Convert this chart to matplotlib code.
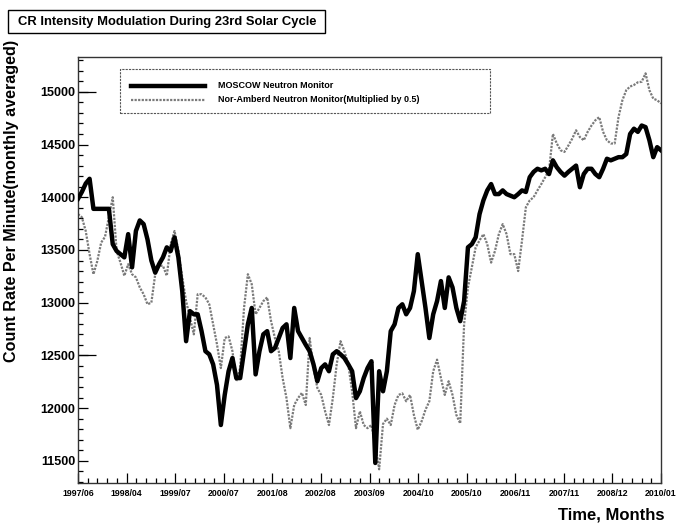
import numpy as np
import matplotlib
matplotlib.use("Agg")
import matplotlib.pyplot as plt
from matplotlib.ticker import FixedLocator, MultipleLocator
from matplotlib.patches import Rectangle
from matplotlib.lines import Line2D

plt.rcParams['font.family'] = ['Liberation Sans', 'DejaVu Sans']
plt.rcParams['font.weight'] = 'bold'

title = "CR Intensity Modulation During 23rd Solar Cycle"
x_label = "Time, Months"
y_label = "Count Rate Per Minute(monthly averaged)"
series_names = ["MOSCOW Neutron Monitor", "Nor-Amberd Neutron Monitor(Multiplied by 0.5)"]
tick_labels = ["1997/06", "1998/04", "1999/07", "2000/07", "2001/08", "2002/08", "2003/09",
               "2004/10", "2005/10", "2006/11", "2007/11", "2008/12", "2010/01"]

moscow = [13985, 14050, 14130, 14175, 13890, 13890, 13890, 13890, 13890, 13555,
          13490, 13460, 13430, 13650, 13335, 13680, 13780, 13745, 13600, 13400,
          13285, 13365, 13430, 13525, 13490, 13620, 13430, 13110, 12635, 12920,
          12890, 12890, 12730, 12540, 12510, 12415, 12220, 11840, 12125, 12350,
          12475, 12285, 12285, 12540, 12795, 12950, 12320, 12540, 12700, 12730,
          12540, 12570, 12665, 12760, 12795, 12475, 12950, 12730, 12665, 12600,
          12540, 12415, 12255, 12380, 12415, 12350, 12510, 12540, 12510, 12475,
          12415, 12350, 12095, 12160, 12285, 12380, 12445, 11480, 12350, 12160,
          12350, 12730, 12795, 12950, 12985, 12890, 12950, 13110, 13460, 13205,
          12950, 12665, 12890, 13015, 13205, 12950, 13240, 13145, 12950, 12825,
          13015, 13525, 13555, 13620, 13840, 13970, 14065, 14125, 14030, 14030,
          14065, 14030, 14015, 14000, 14030, 14065, 14050, 14190, 14240, 14270,
          14255, 14270, 14220, 14350, 14285, 14240, 14205, 14240, 14270, 14300,
          14095, 14220, 14270, 14270, 14220, 14190, 14270, 14365, 14350, 14365,
          14380, 14380, 14410, 14600, 14650, 14620, 14680, 14665, 14540, 14380,
          14475, 14445]

nor_amberd = [13840, 13810, 13680, 13460, 13270, 13395, 13570, 13625, 13810, 14000,
              13490, 13380, 13255, 13365, 13270, 13240, 13145, 13080, 12985, 13000,
              13270, 13350, 13350, 13255, 13555, 13680, 13490, 13240, 13015, 12857,
              12700, 13080, 13080, 13050, 12985, 12795, 12605, 12380, 12665, 12680,
              12540, 12255, 12380, 12950, 13270, 13175, 12890, 12950, 13015, 13050,
              12825, 12665, 12540, 12285, 12095, 11810, 12030, 12095, 12145, 12030,
              12665, 12380, 12190, 12125, 11970, 11840, 12095, 12415, 12635, 12540,
              12415, 12160, 11810, 11970, 11840, 11810, 11840, 11650, 11420, 11850,
              11900, 11840, 12030, 12125, 12140, 12065, 12125, 11935, 11795, 11875,
              11985, 12065, 12350, 12460, 12285, 12125, 12255, 12125, 11935, 11855,
              12795, 13145, 13335, 13525, 13590, 13650, 13555, 13380, 13490, 13650,
              13745, 13650, 13460, 13460, 13300, 13590, 13905, 13970, 14000, 14065,
              14125, 14190, 14255, 14600, 14510, 14445, 14430, 14490, 14555, 14635,
              14570, 14540, 14620, 14680, 14730, 14760, 14620, 14540, 14510, 14510,
              14760, 14920, 15015, 15050, 15065, 15090, 15095, 15175, 15015, 14935,
              14920, 14890]

months = np.arange(len(moscow))
W, H = 679, 532
fig = plt.figure(figsize=(W / 100, H / 100), dpi=100)

def fx(px):
    return px / W

def fy(py):
    return 1 - py / H

ax_left, ax_right, ax_top, ax_bot = 78, 661, 57, 483
ax = fig.add_axes([fx(ax_left), fy(ax_bot), fx(ax_right - ax_left), (ax_bot - ax_top) / H])

ax.plot(months, nor_amberd, color='#7a7a7a', lw=1.6, linestyle=(0, (1, 0.6)), zorder=2)
ax.plot(months, moscow, color='black', lw=3.2, solid_joinstyle='round', zorder=3)

ax.set_xlim(0, len(moscow) - 1)
ax.set_ylim(11290, 15330)

xt = np.linspace(0, len(moscow) - 1, len(tick_labels))
ax.xaxis.set_major_locator(FixedLocator(xt))
ax.set_xticklabels(tick_labels, fontsize=6.3, fontweight='bold')
step = xt[1] - xt[0]
ax.xaxis.set_minor_locator(FixedLocator(np.arange(0, len(moscow) - 1 + 1e-6, step / 5)))

ax.yaxis.set_major_locator(MultipleLocator(500))
ax.yaxis.set_minor_locator(MultipleLocator(100))
for lab in ax.get_yticklabels():
    lab.set_fontsize(9)
    lab.set_fontweight('bold')

ax.tick_params(axis='both', which='both', direction='in', top=False, right=False, width=0.9)
ax.tick_params(axis='y', which='major', length=7, pad=2, labelsize=9)
ax.tick_params(axis='y', which='minor', length=3.5)
ax.tick_params(axis='x', which='major', length=7, pad=4, labelsize=6.3)
ax.tick_params(axis='x', which='minor', length=3.5)

sec = ax.secondary_yaxis('left')
sec.set_yticks([12500, 15000])
sec.set_yticklabels([])
sec.tick_params(direction='in', length=13, width=0.9)
sec.spines['left'].set_visible(False)

for sp in ax.spines.values():
    sp.set_linewidth(1.0)
    sp.set_color('#333333')

# title box
fig.patches.append(Rectangle((fx(8), fy(33)), fx(325 - 8), (33 - 10) / H, transform=fig.transFigure,
                             fill=False, edgecolor='black', lw=1.0))
fig.text(fx(167), fy(21.5), title, ha='center', va='center', fontsize=9.4, fontweight='bold')

# axis labels
fig.text(fx(12), fy(40), y_label, rotation=90, ha='center', va='top', fontsize=11.6, fontweight='bold')
fig.text(fx(665), fy(515), x_label, ha='right', va='center', fontsize=12, fontweight='bold')

# legend
fig.patches.append(Rectangle((fx(120), fy(113)), fx(490 - 120), (113 - 69) / H, transform=fig.transFigure,
                             fill=False, edgecolor='#555555', lw=0.8, linestyle=(0, (2, 1))))
fig.lines.append(Line2D([fx(131), fx(205)], [fy(86), fy(86)], transform=fig.transFigure,
                        color='black', lw=3.2))
fig.lines.append(Line2D([fx(131), fx(205)], [fy(100), fy(100)], transform=fig.transFigure,
                        color='#7a7a7a', lw=1.6, linestyle=(0, (1, 0.6))))
fig.text(fx(218), fy(86), series_names[0], ha='left', va='center', fontsize=6.5, fontweight='bold')
fig.text(fx(218), fy(100), series_names[1], ha='left', va='center', fontsize=6.5, fontweight='bold')

fig.savefig("out.png", dpi=100, facecolor='white')
